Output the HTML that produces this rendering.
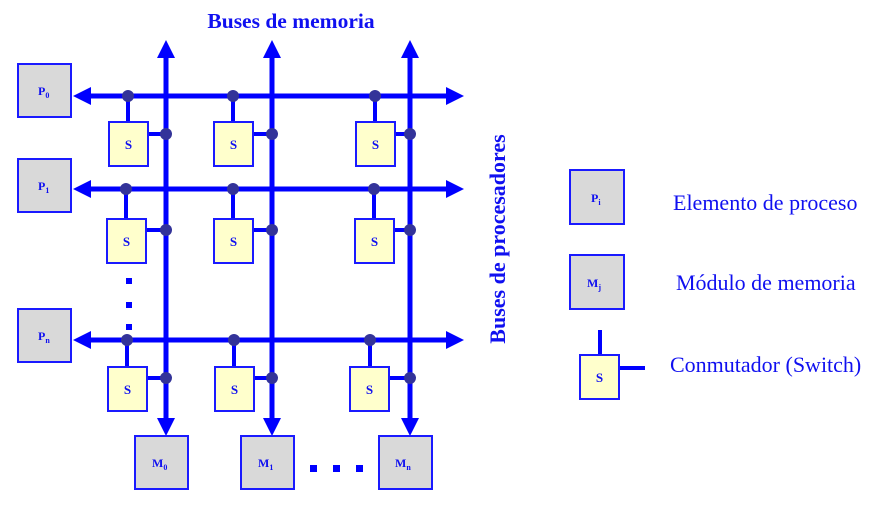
<!DOCTYPE html>
<html><head><meta charset="utf-8"><style>
html,body{margin:0;padding:0;background:#fff;}
svg{display:block;}
text{font-family:"Liberation Serif",serif;fill:#1010f0;}
</style></head><body>
<svg width="894" height="514" viewBox="0 0 894 514" xmlns="http://www.w3.org/2000/svg">
<defs>
<g id="sw"><rect x="0" y="0" width="39" height="44" fill="#ffffcc" stroke="#1a1aff" stroke-width="2"/><text x="19.5" y="27" text-anchor="middle" font-size="13" font-weight="bold">S</text></g>
</defs>
<text x="291" y="28" text-anchor="middle" font-size="21.5" font-weight="bold">Buses de memoria</text>
<text transform="translate(505,239) rotate(-90)" text-anchor="middle" font-size="22" font-weight="bold">Buses de procesadores</text>

<g stroke="#0000ff" stroke-width="5">
<line x1="166" y1="55" x2="166" y2="422"/>
<line x1="272" y1="55" x2="272" y2="422"/>
<line x1="410" y1="55" x2="410" y2="422"/>
<line x1="88" y1="96" x2="448" y2="96"/>
<line x1="88" y1="189" x2="448" y2="189"/>
<line x1="88" y1="340" x2="448" y2="340"/>
</g>
<g fill="#0000ff">
<polygon points="166,40 157,58 175,58"/><polygon points="272,40 263,58 281,58"/><polygon points="410,40 401,58 419,58"/>
<polygon points="166,436 157,418 175,418"/><polygon points="272,436 263,418 281,418"/><polygon points="410,436 401,418 419,418"/>
<polygon points="73,96 91,87 91,105"/><polygon points="73,189 91,180 91,198"/><polygon points="73,340 91,331 91,349"/>
<polygon points="464,96 446,87 446,105"/><polygon points="464,189 446,180 446,198"/><polygon points="464,340 446,331 446,349"/>
<rect x="126" y="278" width="6" height="6"/><rect x="126" y="302" width="6" height="6"/><rect x="126" y="324" width="6" height="6"/>
<rect x="310" y="465" width="7" height="7"/><rect x="333" y="465" width="7" height="7"/><rect x="356" y="465" width="7" height="7"/>
</g>

<g stroke="#0000ff" stroke-width="4">
<line x1="128" y1="96" x2="128" y2="122"/><line x1="148" y1="134" x2="166" y2="134"/>
<line x1="233" y1="96" x2="233" y2="122"/><line x1="253" y1="134" x2="272" y2="134"/>
<line x1="375" y1="96" x2="375" y2="122"/><line x1="394" y1="134" x2="410" y2="134"/>
<line x1="126" y1="189" x2="126" y2="219"/><line x1="146" y1="230" x2="166" y2="230"/>
<line x1="233" y1="189" x2="233" y2="219"/><line x1="253" y1="230" x2="272" y2="230"/>
<line x1="374" y1="189" x2="374" y2="219"/><line x1="394" y1="230" x2="410" y2="230"/>
<line x1="127" y1="340" x2="127" y2="367"/><line x1="147" y1="378" x2="166" y2="378"/>
<line x1="234" y1="340" x2="234" y2="367"/><line x1="254" y1="378" x2="272" y2="378"/>
<line x1="370" y1="340" x2="370" y2="367"/><line x1="389" y1="378" x2="410" y2="378"/>
</g>
<g fill="#333399">
<circle cx="128" cy="96" r="6"/><circle cx="233" cy="96" r="6"/><circle cx="375" cy="96" r="6"/>
<circle cx="166" cy="134" r="6"/><circle cx="272" cy="134" r="6"/><circle cx="410" cy="134" r="6"/>
<circle cx="126" cy="189" r="6"/><circle cx="233" cy="189" r="6"/><circle cx="374" cy="189" r="6"/>
<circle cx="166" cy="230" r="6"/><circle cx="272" cy="230" r="6"/><circle cx="410" cy="230" r="6"/>
<circle cx="127" cy="340" r="6"/><circle cx="234" cy="340" r="6"/><circle cx="370" cy="340" r="6"/>
<circle cx="166" cy="378" r="6"/><circle cx="272" cy="378" r="6"/><circle cx="410" cy="378" r="6"/>
</g>
<use href="#sw" x="109" y="122"/><use href="#sw" x="214" y="122"/><use href="#sw" x="356" y="122"/>
<use href="#sw" x="107" y="219"/><use href="#sw" x="214" y="219"/><use href="#sw" x="355" y="219"/>
<use href="#sw" x="108" y="367"/><use href="#sw" x="215" y="367"/><use href="#sw" x="350" y="367"/>

<g fill="#d9d9d9" stroke="#1a1aff" stroke-width="2">
<rect x="18" y="64" width="53" height="53"/><rect x="18" y="159" width="53" height="53"/><rect x="18" y="309" width="53" height="53"/>
<rect x="135" y="436" width="53" height="53"/><rect x="241" y="436" width="53" height="53"/><rect x="379" y="436" width="53" height="53"/>
<rect x="570" y="170" width="54" height="54"/><rect x="570" y="255" width="54" height="54"/>
</g>
<g font-size="12" font-weight="bold">
<text x="38" y="95" font-weight="bold">P<tspan font-size="8" dy="3">0</tspan></text>
<text x="38" y="190" font-weight="bold">P<tspan font-size="8" dy="3">1</tspan></text>
<text x="38" y="340" font-weight="bold">P<tspan font-size="8" dy="3">n</tspan></text>
<text x="152" y="467" font-weight="bold">M<tspan font-size="8" dy="3">0</tspan></text>
<text x="258" y="467" font-weight="bold">M<tspan font-size="8" dy="3">1</tspan></text>
<text x="395" y="467" font-weight="bold">M<tspan font-size="8" dy="3">n</tspan></text>
<text x="591" y="202" font-weight="bold">P<tspan font-size="8" dy="3">i</tspan></text>
<text x="587" y="287" font-weight="bold">M<tspan font-size="8" dy="3">j</tspan></text>
</g>
<g stroke="#0000ff" stroke-width="4"><line x1="600" y1="330" x2="600" y2="355"/><line x1="619" y1="368" x2="645" y2="368"/></g>
<use href="#sw" x="580" y="355"/>
<text x="673" y="210" font-size="22">Elemento de proceso</text>
<text x="676" y="290" font-size="22">Módulo de memoria</text>
<text x="670" y="372" font-size="22">Conmutador (Switch)</text>
</svg>
</body></html>
